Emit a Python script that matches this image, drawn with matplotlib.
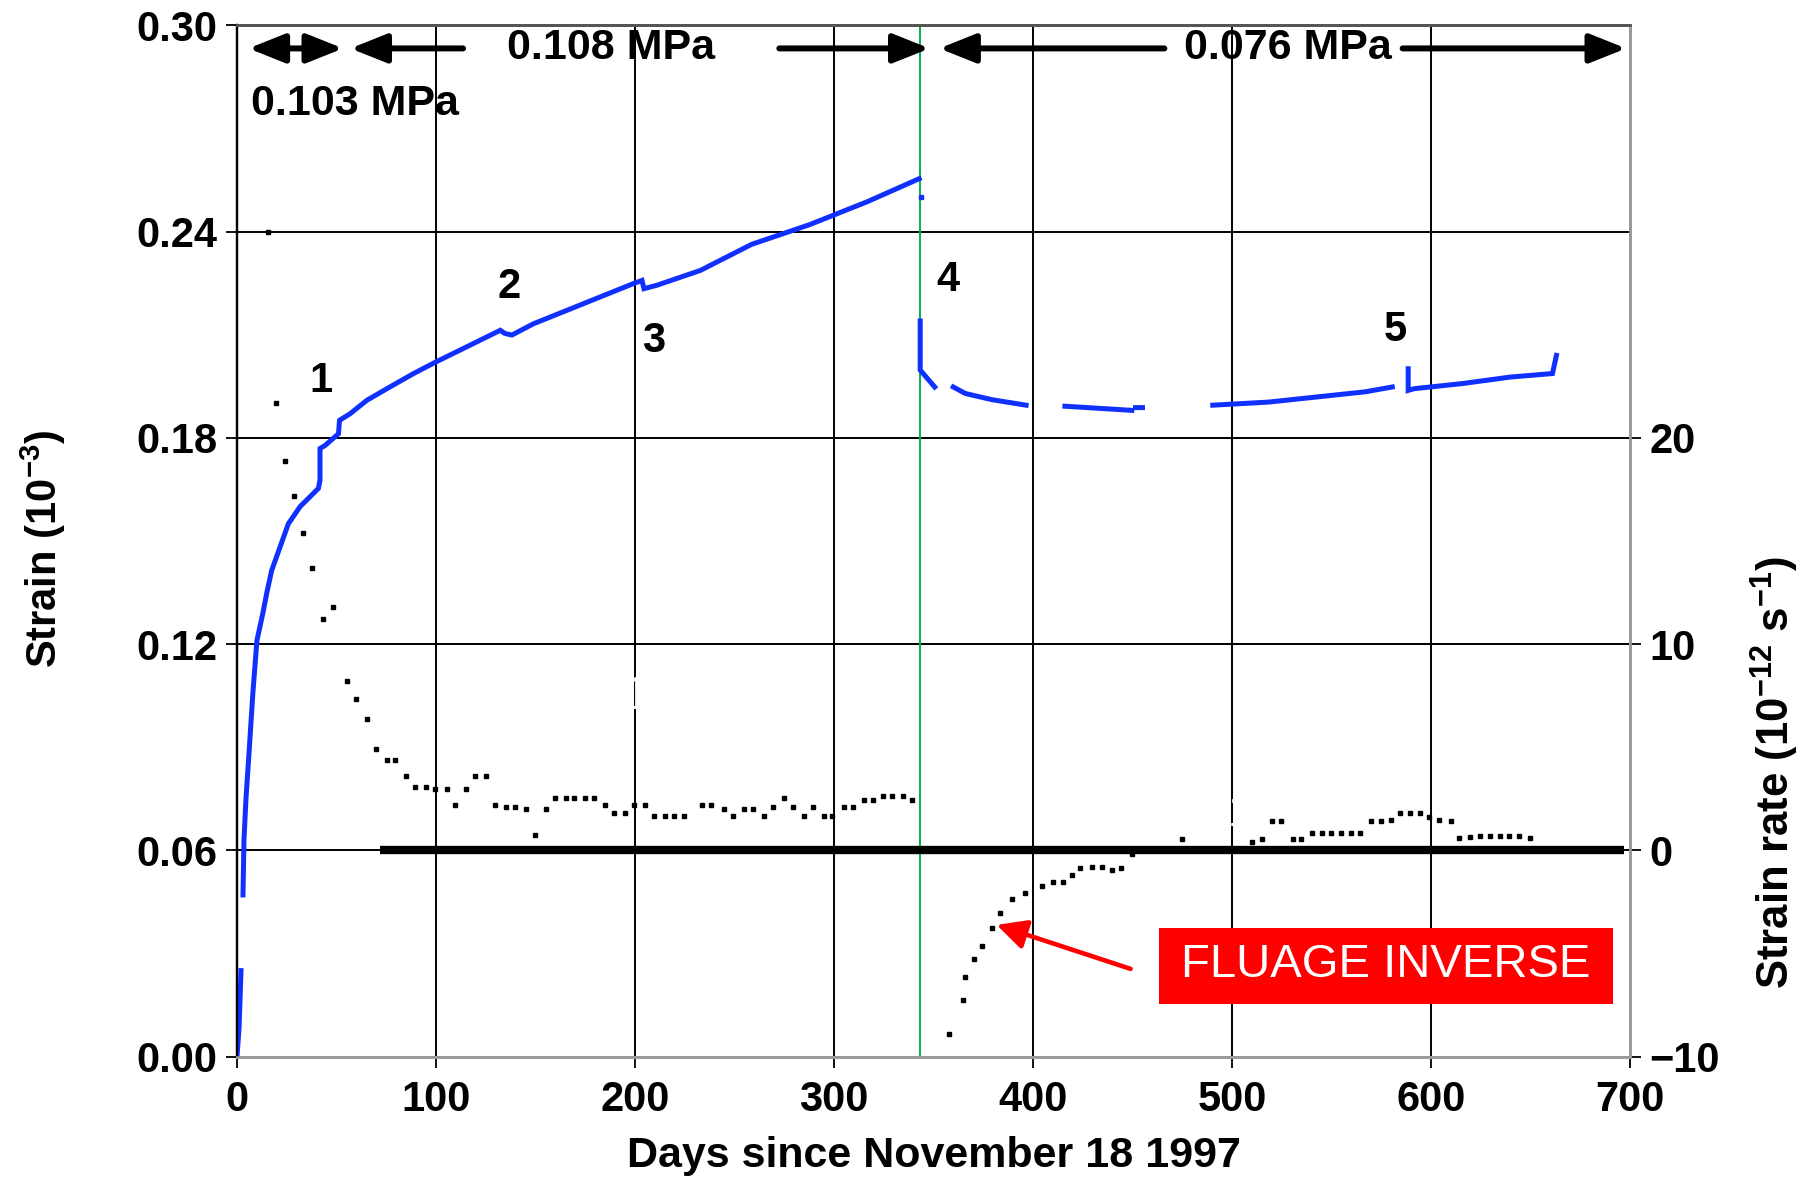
import matplotlib
matplotlib.use("Agg")
import matplotlib.pyplot as plt
import numpy as np
from matplotlib.patches import Rectangle

plt.rcParams['font.family'] = ['Liberation Sans', 'DejaVu Sans']
plt.rcParams['mathtext.fontset'] = 'custom'
plt.rcParams['mathtext.rm'] = 'Liberation Sans:bold'
plt.rcParams['mathtext.bf'] = 'Liberation Sans:bold'
plt.rcParams['mathtext.default'] = 'bf'

# ---------------- data ----------------
# strain curve (days, strain 1e-3); NaN separates recording gaps
strain_days = [0, 1.0, 2.0, np.nan,
               3.0, 3.5, 4.5, 6.0, 8.0, 10.0, 13.0, 15.0, 17.4, 21.6, 25.8, 31.7, 40.9, 41.7,
               41.7, 44.3, 51.0, 51.5, 56.8, 65.2, 75.3, 88.7, 100.0, 115.5, 132.3, 134.5,
               138.1, 149.0, 165.8, 182.5, 199.3, 203.5, 204.5, 211.0, 232.8, 258.6, 287.6,
               316.7, 342.8, np.nan,
               343.3, 343.3, 350.6, np.nan,
               359.9, 366.0, 379.4, 396.5, np.nan,
               416.0, 449.6, np.nan,
               451.5, 455.0, np.nan,
               490.3, 518.3, 542.7, 567.0, 580.5, np.nan,
               588.5, 588.5, 591.5, 615.8, 640.0, 661.0, 663.0]
strain_vals = [0.000, 0.008, 0.025, np.nan,
               0.047, 0.063, 0.075, 0.088, 0.106, 0.121, 0.129, 0.135, 0.1414, 0.1482, 0.155,
               0.160, 0.1653, 0.1677,
               0.1769, 0.1778, 0.1812, 0.1851, 0.1870, 0.1909, 0.1943, 0.1987, 0.2021, 0.2065,
               0.2113, 0.2104, 0.2099, 0.2132, 0.2171, 0.2210, 0.2249, 0.2258, 0.2234, 0.2244,
               0.2287, 0.2363, 0.2420, 0.2487, 0.2554, np.nan,
               0.2140, 0.1997, 0.1948, np.nan,
               0.1948, 0.1929, 0.1911, 0.1895, np.nan,
               0.1892, 0.1880, np.nan,
               0.1888, 0.1888, np.nan,
               0.1895, 0.1904, 0.1919, 0.1934, 0.1948, np.nan,
               0.2001, 0.1938, 0.1943, 0.1958, 0.1977, 0.1987, 0.2040]

# strain-rate points (days, 1e-12 s-1)
rate_days = [15.4, 19.6, 24.1, 28.7, 33.0, 37.5, 43.1, 48.4, 55.3, 59.7, 65.4, 69.8,
             75.4, 79.5, 85.1, 89.6, 95.2, 99.7, 105.3, 109.6, 115.2, 119.7, 124.9, 129.5,
             135.0, 139.6, 145.3, 149.6, 155.1, 159.7, 165.2, 169.3, 174.7, 179.4, 185.0,
             189.5, 195.1, 199.6, 205.2, 209.5, 214.9, 219.6, 224.7, 233.7, 238.2, 244.5,
             249.0, 254.6, 259.5, 264.7, 269.2, 274.8, 279.3, 284.9, 289.4, 295.0, 298.9,
             304.9, 309.4, 315.0, 319.5, 324.7, 329.1, 334.8, 339.2,
             357.9, 364.8, 366.0, 370.2, 374.5, 379.4, 383.5, 389.2, 395.8, 404.5, 409.9,
             414.8, 419.7, 423.6, 429.7, 434.6, 439.5, 444.3, 449.9, 455.3, 460.2, 465.1,
             474.8, 510.1, 515.0, 519.9, 524.7, 530.4, 534.5, 540.1, 545.0, 549.9, 554.7,
             559.6, 564.5, 569.8, 574.7, 580.0, 584.5, 589.4, 594.2, 599.1, 603.9, 610.1,
             614.2, 619.8, 624.7, 629.5, 634.4, 639.3, 644.2, 649.8, 660.0]
rate_vals = [30.0, 21.7, 18.9, 17.2, 15.4, 13.7, 11.2, 11.8, 8.19, 7.33, 6.38, 4.89,
             4.36, 4.36, 3.62, 3.06, 3.06, 2.97, 2.97, 2.22, 2.97, 3.62, 3.62, 2.22,
             2.11, 2.11, 2.0, 0.72, 2.0, 2.55, 2.55, 2.55, 2.55, 2.55, 2.22,
             1.79, 1.79, 2.22, 2.22, 1.67, 1.67, 1.67, 1.67, 2.22, 2.22, 2.0,
             1.67, 2.0, 2.0, 1.67, 2.11, 2.55, 2.11, 1.67, 2.11, 1.67, 1.67,
             2.11, 2.11, 2.43, 2.43, 2.65, 2.65, 2.65, 2.43,
             -8.9, -7.28, -6.12, -5.26, -4.62, -3.76, -3.03, -2.38, -2.06, -1.74, -1.55,
             -1.55, -1.2, -0.86, -0.8, -0.8, -0.95, -0.86, -0.17, 0.03, 0.03, 0.03,
             0.53, 0.39, 0.53, 1.4, 1.4, 0.53, 0.53, 0.85, 0.85, 0.85, 0.85,
             0.85, 0.85, 1.4, 1.4, 1.48, 1.82, 1.82, 1.82, 1.61, 1.48, 1.4,
             0.6, 0.65, 0.7, 0.7, 0.7, 0.7, 0.7, 0.6, 0.0]

zero_bar_days = [72, 697]
zero_bar_rate = [0, 0]

stress_change_day = 343.3

x_ticks = [0, 100, 200, 300, 400, 500, 600, 700]
y_ticks = [0.00, 0.06, 0.12, 0.18, 0.24, 0.30]
y_ticklabels = ['0.00', '0.06', '0.12', '0.18', '0.24', '0.30']
rate_ticks = [-10, 0, 10, 20]

event_labels = ['1', '2', '3', '4', '5']
event_days = [42.4, 136.5, 209.1, 357.3, 582.2]
event_strain = [0.1964, 0.2239, 0.2081, 0.2259, 0.2115]

# ---------------- figure ----------------
fig = plt.figure(figsize=(18.12, 11.81), dpi=100)
fig.patch.set_facecolor('white')
ax = fig.add_axes([0.1308, 0.1054, 0.7688, 0.8731])
ax.set_xlim(0, 700)
ax.set_ylim(0, 0.30)
ax2 = ax.twinx()
ax2.set_ylim(-10, 40)

FS = 30
ax.set_xticks(x_ticks)
ax.set_xticklabels([str(t) for t in x_ticks], fontsize=FS, fontweight='bold')
ax.set_yticks(y_ticks)
ax.set_yticklabels(y_ticklabels, fontsize=FS, fontweight='bold')
ax2.set_yticks(rate_ticks)
ax2.set_yticklabels(['\u221210', '0', '10', '20'], fontsize=FS, fontweight='bold')

ax.tick_params(axis='both', direction='out', length=8, width=1.3, color='k', pad=6)
ax.tick_params(axis='x', pad=9)
ax2.tick_params(axis='y', direction='out', length=8, width=1.3, color='k', pad=6)

ax.grid(True, color='black', lw=1.4, zorder=0)
ax.set_axisbelow(True)

for a in (ax, ax2):
    a.spines['left'].set_color('black')
    a.spines['left'].set_linewidth(1.6)
    a.spines['top'].set_color('#555555')
    a.spines['top'].set_linewidth(2)
    a.spines['right'].set_color('#9a9a9a')
    a.spines['right'].set_linewidth(2)
    a.spines['bottom'].set_color('#9a9a9a')
    a.spines['bottom'].set_linewidth(2)

# labels
ax.set_xlabel('Days since November 18 1997', fontsize=31, fontweight='bold')
ax.xaxis.set_label_coords(0.5, -0.0965)
ax.xaxis.label.set_va('center')
ax.set_ylabel('Strain (10$^{-3}$)', fontsize=30, fontweight='bold')
ax.yaxis.set_label_coords(-0.1394, 0.492)
ax.yaxis.label.set_va('center')
ax2.set_ylabel('Strain rate (10$^{-12}$ s$^{-1}$)', fontsize=31.5, fontweight='bold')
ax2.yaxis.set_label_coords(1.104, 0.275)
ax2.yaxis.label.set_va('center')

# green stress-change line
ax.axvline(stress_change_day, color='#00b050', lw=1.4, zorder=2)

# hidden (white) annotations present in the source
ax.text(223.7, 0.1046, '1,4 10-12 s-1', color='white', fontsize=33,
        ha='center', va='center', zorder=2.5)
ax.text(493.7, 0.0707, '1,4 10-12 s-1', color='white', fontsize=33,
        ha='center', va='center', zorder=2.5)

# strain curve
ax.plot(strain_days, strain_vals, color='#1030ff', lw=3.6, zorder=4,
        solid_joinstyle='miter')
ax.plot([343.6], [0.2500], marker='s', ms=3, color='#1030ff', zorder=4)

# strain rate dots and zero bar
ax2.plot(rate_days, rate_vals, ls='none', marker='s', ms=3.0, color='black', zorder=5)
ax2.plot(zero_bar_days, zero_bar_rate, color='black', lw=6, solid_capstyle='butt', zorder=5)

# event numbers
for lab, d, s in zip(event_labels, event_days, event_strain):
    ax.text(d, s, lab, fontsize=FS, fontweight='bold', ha='center', va='center', zorder=6)

# stress period arrows on top
ya = 0.2933
arrow_kw = dict(lw=4.3, color='black', shrinkA=0, shrinkB=0, mutation_scale=40)
hs = '-|>,head_length=0.55,head_width=0.22'
ax.annotate('', xy=(53.3, ya), xytext=(5.8, ya),
            arrowprops=dict(arrowstyle='<|-|>,head_length=0.55,head_width=0.22', **arrow_kw),
            annotation_clip=False, zorder=6)
ax.annotate('', xy=(57.0, ya), xytext=(113.6, ya),
            arrowprops=dict(arrowstyle=hs, **arrow_kw), annotation_clip=False, zorder=6)
ax.annotate('', xy=(348.0, ya), xytext=(272.5, ya),
            arrowprops=dict(arrowstyle=hs, **arrow_kw), annotation_clip=False, zorder=6)
ax.annotate('', xy=(352.9, ya), xytext=(466.0, ya),
            arrowprops=dict(arrowstyle=hs, **arrow_kw), annotation_clip=False, zorder=6)
ax.annotate('', xy=(698.0, ya), xytext=(585.7, ya),
            arrowprops=dict(arrowstyle=hs, **arrow_kw), annotation_clip=False, zorder=6)
ax.text(188.0, ya, '0.108 MPa', fontsize=31, fontweight='bold', ha='center', va='center', zorder=6)
ax.text(527.8, ya, '0.076 MPa', fontsize=31, fontweight='bold', ha='center', va='center', zorder=6)
ax.text(6.9, 0.2771, '0.103 MPa', fontsize=31, fontweight='bold', ha='left', va='center', zorder=6)

# FLUAGE INVERSE box and arrow
ax.add_patch(Rectangle((463.1, 0.0154), 691.4 - 463.1, 0.0375 - 0.0154,
                       facecolor='#ff0000', edgecolor='none', zorder=6))
ax.text(577.3, 0.0265, 'FLUAGE INVERSE', color='white', fontsize=34,
        ha='center', va='center', zorder=7)
ax.annotate('', xy=(381.7, 0.0383), xytext=(449.0, 0.0255),
            arrowprops=dict(arrowstyle='-|>,head_length=0.6,head_width=0.3', lw=3.3,
                            color='#ff0000', shrinkA=0, shrinkB=0, mutation_scale=30),
            zorder=7)

fig.savefig('out.png', dpi=100, facecolor='white')
